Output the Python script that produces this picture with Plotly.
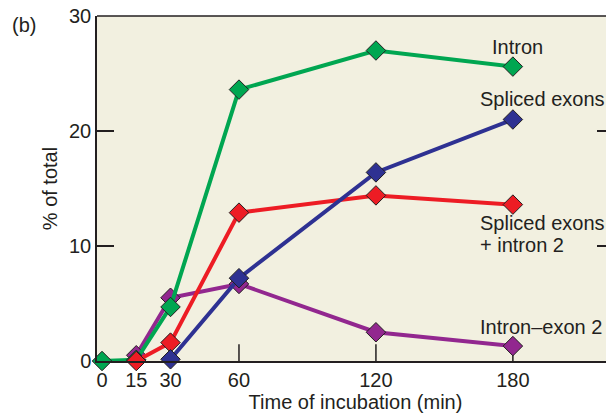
import plotly.graph_objects as go

minutes = [0, 15, 30, 60, 120, 180]
intron = [0, 0.1, 4.7, 23.6, 27.0, 25.6]
spliced_minutes = [30, 60, 120, 180]
spliced_exons = [0.15, 7.2, 16.4, 21.0]
partial_minutes = [15, 30, 60, 120, 180]
spliced_plus_intron2 = [0, 1.6, 12.9, 14.4, 13.6]
intron_exon2 = [0.5, 5.5, 6.7, 2.5, 1.3]

x_ticks = [0, 15, 30, 60, 120, 180]
y_ticks = [0, 10, 20, 30]

ink = "#231F20"
font = "Liberation Sans, Arial, sans-serif"


def series(x, y, color):
    return go.Scatter(
        x=x, y=y, mode="lines+markers",
        line=dict(color=color, width=4),
        marker=dict(symbol="diamond", size=15, color=color,
                    line=dict(color=ink, width=1)),
        showlegend=False, cliponaxis=False,
    )


fig = go.Figure()
# order so the overlaps match: purple under, green, red, blue on top
fig.add_trace(series(partial_minutes, intron_exon2, "#92278F"))
fig.add_trace(series(minutes, intron, "#00A651"))
fig.add_trace(series(partial_minutes, spliced_plus_intron2, "#ED1C24"))
fig.add_trace(series(spliced_minutes, spliced_exons, "#2E3192"))
# invisible trace carrying the right-hand tick marks
fig.add_trace(go.Scatter(x=[None], y=[None], yaxis="y2", showlegend=False))

labels = [
    dict(x=182, y=27.3, text="Intron", xanchor="center"),
    dict(x=164.5, y=22.8, text="Spliced exons", xanchor="left"),
    dict(x=164.5, y=12.0, text="Spliced exons", xanchor="left"),
    dict(x=164.5, y=10.1, text="+ intron 2", xanchor="left"),
    dict(x=164.5, y=2.95, text="Intron\u2013exon 2", xanchor="left"),
]
for a in labels:
    fig.add_annotation(x=a["x"], y=a["y"], text=a["text"], xanchor=a["xanchor"],
                       yanchor="middle", align="left", showarrow=False,
                       font=dict(size=20, color=ink, family=font))

fig.add_annotation(x=-0.168, y=0.974, xref="x domain", yref="y domain", text="(b)",
                   showarrow=False, xanchor="left", yanchor="middle",
                   font=dict(size=20, color=ink, family=font))

fig.update_layout(
    width=606, height=411,
    margin=dict(l=89, r=0, t=8, b=58),
    paper_bgcolor="white",
    plot_bgcolor="#F2F0E0",
    font=dict(family=font, color=ink, size=20),
    xaxis=dict(
        range=[-2.2, 224.3], tickvals=x_ticks, ticks="", showgrid=False,
        zeroline=False, showline=True, linecolor=ink, linewidth=1.5,
        title=dict(text="Time of incubation (min)", font=dict(size=20), standoff=2),
        tickfont=dict(size=20), automargin=False,
    ),
    yaxis=dict(
        range=[0, 30], tickvals=y_ticks, ticks="inside", ticklen=17,
        tickwidth=1.5, tickcolor=ink, showgrid=False, zeroline=False,
        showline=True, linecolor=ink, linewidth=1.5,
        title=dict(text="% of total", font=dict(size=20), standoff=6),
        tickfont=dict(size=20), ticklabeloverflow="allow", automargin=False,
    ),
    yaxis2=dict(
        range=[0, 30], tickvals=y_ticks, ticks="inside", ticklen=17,
        tickwidth=1.5, tickcolor=ink, overlaying="y", side="right",
        showticklabels=False, showgrid=False, zeroline=False, showline=False,
        automargin=False,
    ),
)

# short inward tick marks along the bottom at 60, 120 and 180 min
for t in [60, 120, 180]:
    fig.add_shape(type="line", xref="x", yref="y", x0=t, x1=t, y0=0, y1=1.45,
                  line=dict(color=ink, width=1.5), layer="below")
# top border of the frame
fig.add_shape(type="line", xref="paper", yref="paper", x0=0, x1=1, y0=1, y1=1,
              line=dict(color=ink, width=1.5))

fig.write_html("out.html")
